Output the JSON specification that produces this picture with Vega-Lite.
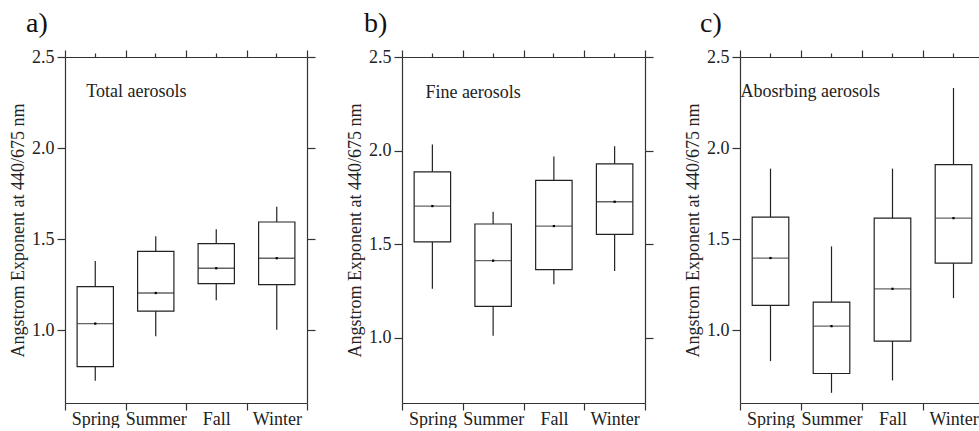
{
  "$schema": "https://vega.github.io/schema/vega-lite/v6.json",
  "padding": {"left": 8, "top": 10, "right": 0, "bottom": 0},
  "bounds": "flush",
  "spacing": 95,
  "background": "white",
  "config": {
    "view": {"stroke": null},
    "font": "Liberation Serif, Times New Roman, Times, DejaVu Serif, serif",
    "axis": {
      "labelFont": "Liberation Serif, Times New Roman, Times, DejaVu Serif, serif", "labelFontSize": 18, "labelColor": "#222",
      "titleFont": "Liberation Serif, Times New Roman, Times, DejaVu Serif, serif", "titleFontSize": 18, "titleFontWeight": "normal", "titleColor": "#222",
      "domainColor": "#333", "tickColor": "#333", "domainWidth": 1.2, "tickWidth": 1.2,
      "grid": false, "labelFlush": false, "labelOverlap": false
    },
    "text": {"font": "Liberation Serif, Times New Roman, Times, DejaVu Serif, serif"},
    "title": {"font": "Liberation Serif, Times New Roman, Times, DejaVu Serif, serif", "fontSize": 28, "fontWeight": "normal", "color": "#111", "anchor": "start", "frame": "group", "baseline": "alphabetic", "offset": 10}
  },
  "datasets": {
    "a": [
      {"season": "Spring", "min": 0.722, "q1": 0.800, "median": 1.036, "q3": 1.239, "max": 1.380},
      {"season": "Summer", "min": 0.967, "q1": 1.104, "median": 1.204, "q3": 1.433, "max": 1.515},
      {"season": "Fall", "min": 1.164, "q1": 1.256, "median": 1.340, "q3": 1.475, "max": 1.554},
      {"season": "Winter", "min": 1.002, "q1": 1.250, "median": 1.395, "q3": 1.594, "max": 1.678}
    ],
    "b": [
      {"season": "Spring", "min": 1.261, "q1": 1.511, "median": 1.703, "q3": 1.886, "max": 2.032},
      {"season": "Summer", "min": 1.010, "q1": 1.167, "median": 1.411, "q3": 1.607, "max": 1.672},
      {"season": "Fall", "min": 1.285, "q1": 1.363, "median": 1.596, "q3": 1.840, "max": 1.968},
      {"season": "Winter", "min": 1.356, "q1": 1.552, "median": 1.726, "q3": 1.929, "max": 2.023}
    ],
    "c": [
      {"season": "Spring", "min": 0.830, "q1": 1.136, "median": 1.396, "q3": 1.621, "max": 1.887},
      {"season": "Summer", "min": 0.656, "q1": 0.762, "median": 1.022, "q3": 1.154, "max": 1.460},
      {"season": "Fall", "min": 0.724, "q1": 0.940, "median": 1.227, "q3": 1.615, "max": 1.887},
      {"season": "Winter", "min": 1.176, "q1": 1.368, "median": 1.615, "q3": 1.909, "max": 2.330}
    ]
  },
  "resolve": {"scale": {"x": "independent", "y": "independent"}},
  "hconcat": [
    {
      "width": 242, "height": 346,
      "title": {"text": "a)", "dx": -39},
      "data": {"name": "a"},
      "resolve": {"axis": {"x": "independent", "y": "independent"}},
      "layer": [
        {
          "mark": {"type": "rule", "color": "#222", "strokeWidth": 1.2},
          "encoding": {
            "x": {"field": "season", "type": "nominal", "scale": {"domain": ["Spring", "Summer", "Fall", "Winter"], "paddingInner": 0, "paddingOuter": 0},
              "axis": {"orient": "bottom", "tickBand": "extent", "tickSize": 7, "labelPadding": 0, "labelAngle": 0, "title": null}},
            "y": {"field": "min", "type": "quantitative", "scale": {"domain": [0.6, 2.5], "nice": false, "zero": false},
              "axis": {"orient": "left", "values": [1, 1.5, 2, 2.5], "format": ".1f", "tickSize": 8, "labelPadding": 3,
                "title": "Angstrom Exponent at 440/675 nm", "titleX": -47, "titleY": 173, "titleAngle": 270, "titleAlign": "center", "titleBaseline": "middle"}},
            "y2": {"field": "max"}
          }
        },
        {
          "mark": {"type": "bar", "fill": "white", "stroke": "#222", "strokeWidth": 1.2, "width": {"band": 0.6}},
          "encoding": {
            "x": {"field": "season", "type": "nominal", "axis": null},
            "y": {"field": "q1", "type": "quantitative", "axis": null},
            "y2": {"field": "q3"}
          }
        },
        {
          "mark": {"type": "tick", "color": "#222", "size": 36, "thickness": 1.3},
          "encoding": {
            "x": {"field": "season", "type": "nominal", "axis": null},
            "y": {"field": "median", "type": "quantitative", "axis": null}
          }
        },
        {
          "mark": {"type": "point", "shape": "square", "filled": true, "color": "#000", "size": 5, "opacity": 1},
          "encoding": {
            "x": {"field": "season", "type": "nominal", "axis": {"orient": "top", "tickBand": "extent", "tickSize": 7, "labels": false, "title": null}},
            "y": {"field": "median", "type": "quantitative", "axis": {"orient": "right", "values": [1, 1.5, 2, 2.5], "tickSize": 8, "labels": false, "title": null}}
          }
        },
        {
          "mark": {"type": "point", "opacity": 0},
          "encoding": {
            "x": {"field": "season", "type": "nominal", "axis": {"orient": "top", "tickBand": "center", "tickSize": 4, "labels": false, "domain": false, "title": null}},
            "y": {"field": "median", "type": "quantitative", "axis": null}
          }
        },
        {
          "data": {"values": [{"label": "Total aerosols"}]},
          "mark": {"type": "text", "align": "left", "baseline": "middle", "dx": -9, "fontSize": 18, "color": "#222"},
          "encoding": {
            "x": {"datum": "Spring", "type": "nominal", "axis": null},
            "y": {"datum": 2.31, "type": "quantitative", "axis": null},
            "text": {"field": "label"}
          }
        }
      ]
    },
    {
      "width": 243, "height": 346,
      "title": {"text": "b)", "dx": -38},
      "data": {"name": "b"},
      "resolve": {"axis": {"x": "independent", "y": "independent"}},
      "layer": [
        {
          "mark": {"type": "rule", "color": "#222", "strokeWidth": 1.2},
          "encoding": {
            "x": {"field": "season", "type": "nominal", "scale": {"domain": ["Spring", "Summer", "Fall", "Winter"], "paddingInner": 0, "paddingOuter": 0},
              "axis": {"orient": "bottom", "tickBand": "extent", "tickSize": 7, "labelPadding": 0, "labelAngle": 0, "title": null}},
            "y": {"field": "min", "type": "quantitative", "scale": {"domain": [0.65, 2.5], "nice": false, "zero": false},
              "axis": {"orient": "left", "values": [1, 1.5, 2, 2.5], "format": ".1f", "tickSize": 8, "labelPadding": 3,
                "title": "Angstrom Exponent at 440/675 nm", "titleX": -47, "titleY": 173, "titleAngle": 270, "titleAlign": "center", "titleBaseline": "middle"}},
            "y2": {"field": "max"}
          }
        },
        {
          "mark": {"type": "bar", "fill": "white", "stroke": "#222", "strokeWidth": 1.2, "width": {"band": 0.6}},
          "encoding": {
            "x": {"field": "season", "type": "nominal", "axis": null},
            "y": {"field": "q1", "type": "quantitative", "axis": null},
            "y2": {"field": "q3"}
          }
        },
        {
          "mark": {"type": "tick", "color": "#222", "size": 36, "thickness": 1.3},
          "encoding": {
            "x": {"field": "season", "type": "nominal", "axis": null},
            "y": {"field": "median", "type": "quantitative", "axis": null}
          }
        },
        {
          "mark": {"type": "point", "shape": "square", "filled": true, "color": "#000", "size": 5, "opacity": 1},
          "encoding": {
            "x": {"field": "season", "type": "nominal", "axis": {"orient": "top", "tickBand": "extent", "tickSize": 7, "labels": false, "title": null}},
            "y": {"field": "median", "type": "quantitative", "axis": {"orient": "right", "values": [1, 1.5, 2, 2.5], "tickSize": 8, "labels": false, "title": null}}
          }
        },
        {
          "mark": {"type": "point", "opacity": 0},
          "encoding": {
            "x": {"field": "season", "type": "nominal", "axis": {"orient": "top", "tickBand": "center", "tickSize": 4, "labels": false, "domain": false, "title": null}},
            "y": {"field": "median", "type": "quantitative", "axis": null}
          }
        },
        {
          "data": {"values": [{"label": "Fine aerosols"}]},
          "mark": {"type": "text", "align": "left", "baseline": "middle", "dx": -7, "fontSize": 18, "color": "#222"},
          "encoding": {
            "x": {"datum": "Spring", "type": "nominal", "axis": null},
            "y": {"datum": 2.31, "type": "quantitative", "axis": null},
            "text": {"field": "label"}
          }
        }
      ]
    },
    {
      "width": 244, "height": 346,
      "title": {"text": "c)", "dx": -40},
      "data": {"name": "c"},
      "resolve": {"axis": {"x": "independent", "y": "independent"}},
      "layer": [
        {
          "mark": {"type": "rule", "color": "#222", "strokeWidth": 1.2},
          "encoding": {
            "x": {"field": "season", "type": "nominal", "scale": {"domain": ["Spring", "Summer", "Fall", "Winter"], "paddingInner": 0, "paddingOuter": 0},
              "axis": {"orient": "bottom", "tickBand": "extent", "tickSize": 7, "labelPadding": 0, "labelAngle": 0, "title": null}},
            "y": {"field": "min", "type": "quantitative", "scale": {"domain": [0.6, 2.5], "nice": false, "zero": false},
              "axis": {"orient": "left", "values": [1, 1.5, 2, 2.5], "format": ".1f", "tickSize": 8, "labelPadding": 3,
                "title": "Angstrom Exponent at 440/675 nm", "titleX": -47, "titleY": 173, "titleAngle": 270, "titleAlign": "center", "titleBaseline": "middle"}},
            "y2": {"field": "max"}
          }
        },
        {
          "mark": {"type": "bar", "fill": "white", "stroke": "#222", "strokeWidth": 1.2, "width": {"band": 0.6}},
          "encoding": {
            "x": {"field": "season", "type": "nominal", "axis": null},
            "y": {"field": "q1", "type": "quantitative", "axis": null},
            "y2": {"field": "q3"}
          }
        },
        {
          "mark": {"type": "tick", "color": "#222", "size": 36, "thickness": 1.3},
          "encoding": {
            "x": {"field": "season", "type": "nominal", "axis": null},
            "y": {"field": "median", "type": "quantitative", "axis": null}
          }
        },
        {
          "mark": {"type": "point", "shape": "square", "filled": true, "color": "#000", "size": 5, "opacity": 1},
          "encoding": {
            "x": {"field": "season", "type": "nominal", "axis": {"orient": "top", "tickBand": "extent", "tickSize": 7, "labels": false, "title": null}},
            "y": {"field": "median", "type": "quantitative", "axis": {"orient": "right", "values": [1, 1.5, 2, 2.5], "tickSize": 8, "labels": false, "title": null}}
          }
        },
        {
          "mark": {"type": "point", "opacity": 0},
          "encoding": {
            "x": {"field": "season", "type": "nominal", "axis": {"orient": "top", "tickBand": "center", "tickSize": 4, "labels": false, "domain": false, "title": null}},
            "y": {"field": "median", "type": "quantitative", "axis": null}
          }
        },
        {
          "data": {"values": [{"label": "Abosrbing aerosols"}]},
          "mark": {"type": "text", "align": "left", "baseline": "middle", "dx": -30, "fontSize": 18, "color": "#222"},
          "encoding": {
            "x": {"datum": "Spring", "type": "nominal", "axis": null},
            "y": {"datum": 2.31, "type": "quantitative", "axis": null},
            "text": {"field": "label"}
          }
        }
      ]
    }
  ]
}
